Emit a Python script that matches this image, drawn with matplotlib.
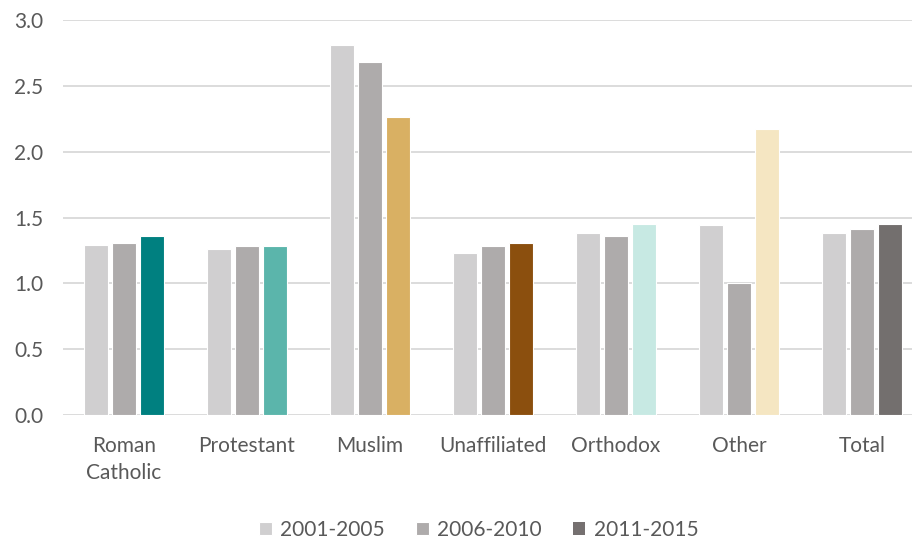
import matplotlib.pyplot as plt
import numpy as np

# data
categories = ["Roman\nCatholic", "Protestant", "Muslim", "Unaffiliated", "Orthodox", "Other", "Total"]
series_names = ["2001-2005", "2006-2010", "2011-2015"]
vals_2001 = [1.29, 1.26, 2.81, 1.23, 1.38, 1.44, 1.38]
vals_2006 = [1.31, 1.28, 2.68, 1.28, 1.36, 1.00, 1.41]
vals_2011 = [1.36, 1.28, 2.26, 1.31, 1.45, 2.17, 1.45]
y_ticks = [0.0, 0.5, 1.0, 1.5, 2.0, 2.5, 3.0]

# colours
c_2001 = "#d0cfd0"
c_2006 = "#aeabab"
c_2011_legend = "#757070"
c_2011 = ["#008080", "#5bb5ab", "#d9b063", "#8b4f0e", "#c7e9e3", "#f5e6c2", "#736f6e"]
text_col = "#595959"

plt.rcParams["font.family"] = ["Lato", "DejaVu Sans"]

fig = plt.figure(figsize=(9.13, 5.41), dpi=100)
ax = fig.add_axes([62.5 / 913, 1 - 415 / 541, (912 - 62.5) / 913, (415 - 20) / 541])

x = np.arange(len(categories))
w = 0.195
off = 0.225
ax.bar(x - off, vals_2001, w, color=c_2001, edgecolor="white", linewidth=0.8, label=series_names[0], zorder=3)
ax.bar(x, vals_2006, w, color=c_2006, edgecolor="white", linewidth=0.8, label=series_names[1], zorder=3)
ax.bar(x + off, vals_2011, w, color=c_2011, edgecolor="white", linewidth=0.8, zorder=3)
# legend proxy for third series
ax.bar([0], [0], 0, color=c_2011_legend, label=series_names[2])

ax.set_xlim(-0.5, 6.5 - 11.5 / 123)
ax.set_ylim(0, 3.0)
ax.set_yticks(y_ticks)
ax.set_yticklabels([f"{t:.1f}" for t in y_ticks])
ax.set_xticks(x)
ax.set_xticklabels(categories, linespacing=1.45)
ax.grid(axis="y", color="#d9d9d9", linewidth=1.3, zorder=0)
for s in ax.spines.values():
    s.set_visible(False)
ax.tick_params(axis="both", length=0, labelsize=15, colors=text_col)
ax.tick_params(axis="y", pad=14)
ax.tick_params(axis="x", pad=15)

leg = ax.legend(loc="center", bbox_to_anchor=(0.49, -0.29), ncol=3, frameon=False,
                fontsize=15, handlelength=0.6, handleheight=0.6, handletextpad=0.4,
                columnspacing=1.5)
for t in leg.get_texts():
    t.set_color(text_col)

fig.savefig("out.png", dpi=100)
